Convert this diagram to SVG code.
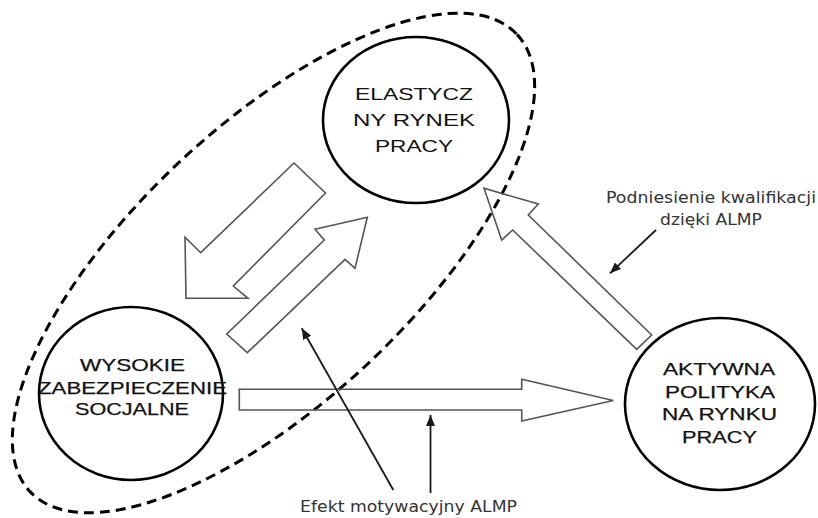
<svg xmlns="http://www.w3.org/2000/svg" width="818" height="518" viewBox="0 0 818 518">
<defs>
<style>
.node{fill:none;stroke:#000;stroke-width:2.6}
.big{font-family:"Liberation Sans",Arial,sans-serif;font-size:17px;fill:#111;text-anchor:start}
.heavy{stroke:#111;stroke-width:0.25}
.lbl{font-family:"DejaVu Sans","Liberation Sans",sans-serif;font-size:15.5px;fill:#333}
.block{fill:none;stroke:#555;stroke-width:1.6;stroke-linejoin:miter}
.thin{fill:none;stroke:#1a1a1a;stroke-width:1.8}
.cluster{fill:none;stroke:#000;stroke-width:3;stroke-dasharray:10 6}
</style>
<marker id="ah" markerUnits="userSpaceOnUse" markerWidth="12" markerHeight="10" refX="11" refY="5" orient="auto">
<path d="M0,0.5 L11,5 L0,9.5 Z" fill="#1a1a1a"/>
</marker>
</defs>
<rect width="818" height="518" fill="#fff"/>

<g id="cluster">
<ellipse class="cluster" cx="273.5" cy="263" rx="334" ry="138" transform="rotate(-43.2 273.5 263)"/>
</g>

<g id="connectors">
<polygon class="block" points="294,163 325.5,193 233.3,286 248,298.3 186,298.3 185,237.3 200.7,252.7"/>
<polygon class="block" points="226.7,334 324.3,240 315,229.3 367.3,217.3 355,268.3 345,259.3 247.3,352.7"/>
<polygon class="block" points="239.3,389.3 521.7,389.3 521.7,379.3 613.3,400.5 521.7,421 521.7,410 239.3,410"/>
<polygon class="block" points="651.7,335 528.3,215 538.3,204 484,188.3 501.7,240 512.7,230 636.7,349.3"/>
<line class="thin" x1="656" y1="230" x2="610" y2="273.3" marker-end="url(#ah)"/>
<line class="thin" x1="393.3" y1="490" x2="301.7" y2="328.3" marker-end="url(#ah)"/>
<line class="thin" x1="430.5" y1="493" x2="430.5" y2="415" marker-end="url(#ah)"/>
</g>

<g id="node-elastyczny">
<ellipse class="node" cx="416" cy="120" rx="93" ry="83"/>
<text class="big" x="355" y="100" textLength="118" lengthAdjust="spacingAndGlyphs">ELASTYCZ</text>
<text class="big" x="353" y="126" textLength="122" lengthAdjust="spacingAndGlyphs">NY RYNEK</text>
<text class="big" x="375" y="152" textLength="78" lengthAdjust="spacingAndGlyphs">PRACY</text>
</g>

<g id="node-wysokie">
<ellipse class="node" cx="131" cy="393.5" rx="92" ry="86.5"/>
<text class="big heavy" x="80" y="371" font-size="18" textLength="105" lengthAdjust="spacingAndGlyphs">WYSOKIE</text>
<text class="big heavy" x="38" y="394" font-size="18" textLength="189" lengthAdjust="spacingAndGlyphs">ZABEZPIECZENIE</text>
<text class="big heavy" x="75" y="415" font-size="18" textLength="114" lengthAdjust="spacingAndGlyphs">SOCJALNE</text>
</g>

<g id="node-aktywna">
<ellipse class="node" cx="720" cy="404" rx="95" ry="86"/>
<text class="big heavy" x="663" y="375" font-size="18" textLength="112" lengthAdjust="spacingAndGlyphs">AKTYWNA</text>
<text class="big heavy" x="665" y="398" font-size="18" textLength="110" lengthAdjust="spacingAndGlyphs">POLITYKA</text>
<text class="big heavy" x="662" y="420" font-size="18" textLength="115" lengthAdjust="spacingAndGlyphs">NA RYNKU</text>
<text class="big heavy" x="682" y="443" font-size="18" textLength="75" lengthAdjust="spacingAndGlyphs">PRACY</text>
</g>

<g id="label-podniesienie">
<text class="lbl" x="606" y="203" textLength="210" lengthAdjust="spacingAndGlyphs">Podniesienie kwalifikacji</text>
<text class="lbl" x="660" y="225" textLength="102" lengthAdjust="spacingAndGlyphs">dzięki ALMP</text>
</g>

<g id="label-efekt">
<text class="lbl" x="300" y="512" textLength="217" lengthAdjust="spacingAndGlyphs">Efekt motywacyjny ALMP</text>
</g>
</svg>
